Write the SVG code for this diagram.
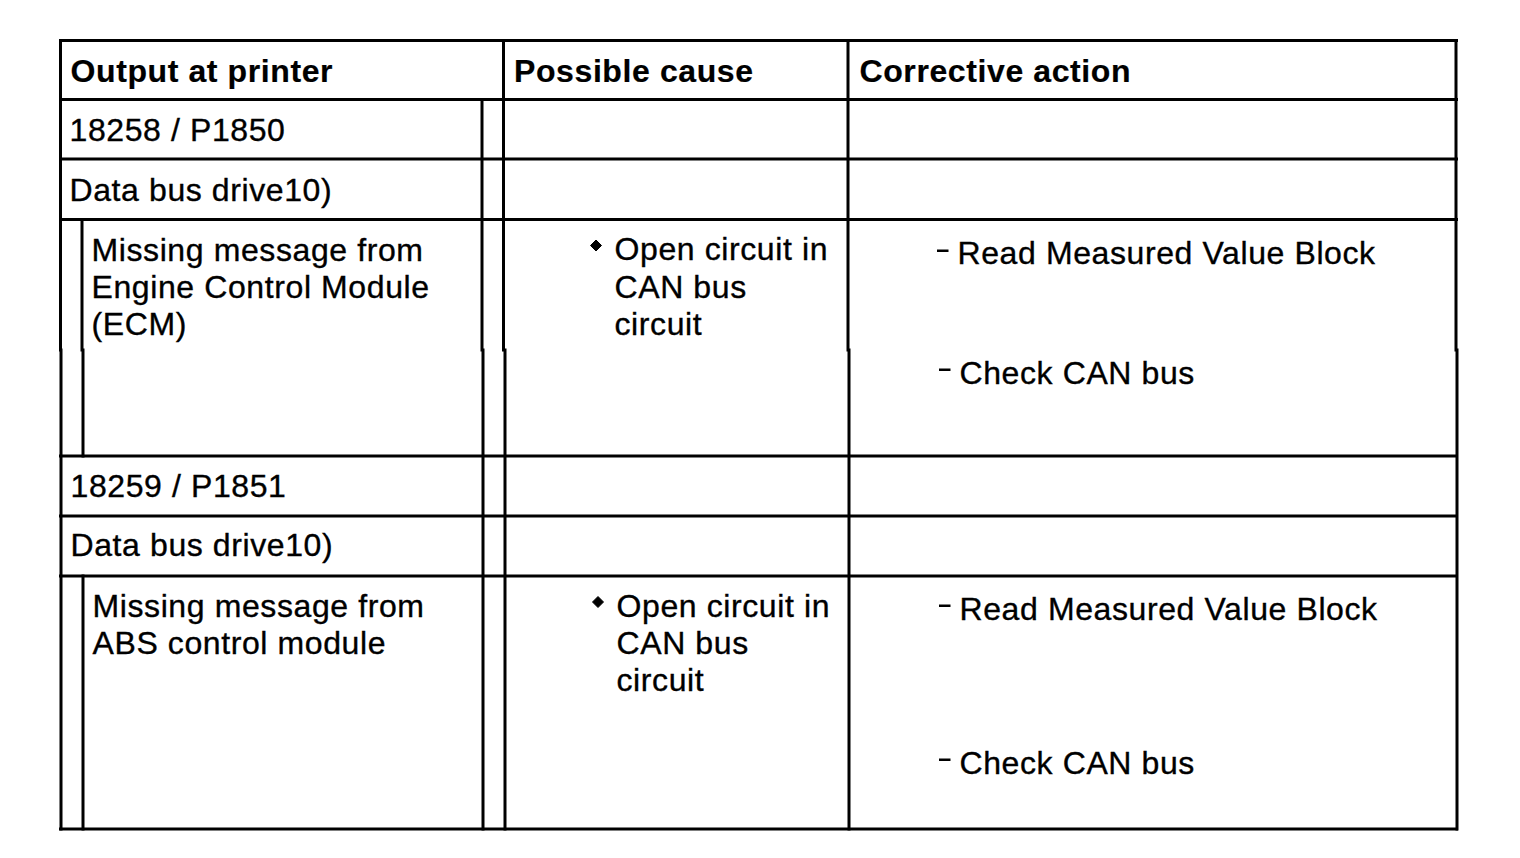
<svg xmlns="http://www.w3.org/2000/svg" width="1520" height="858" viewBox="0 0 1520 858">
<style>
  .t { font-family: "Liberation Sans", Arial, sans-serif; font-size: 32px; letter-spacing: 0.6px; fill: #000; stroke: #000; stroke-width: 0.35px; }
  .b { font-weight: bold; stroke-width: 0.2px; }
  .g line { stroke: #000; stroke-width: 3; stroke-linecap: square; fill: none; }
  .dash { fill: #000; }
  .dia { fill: #000; stroke: #000; stroke-width: 1; stroke-linejoin: round; }
</style>
<rect x="0" y="0" width="1520" height="858" fill="#fff"/>
<g id="grid" class="g">
  <line x1="60.5" y1="40.5" x2="1456.5" y2="40.5"/>
  <line x1="60.5" y1="99.5" x2="1456.5" y2="99.5"/>
  <line x1="60.5" y1="159" x2="1456.5" y2="159"/>
  <line x1="60.5" y1="219.5" x2="1456.5" y2="219.5"/>
  <line x1="60.5" y1="456" x2="1456.5" y2="456"/>
  <line x1="60.5" y1="516" x2="1456.5" y2="516"/>
  <line x1="60.5" y1="576" x2="1456.5" y2="576"/>
  <line x1="60.5" y1="829" x2="1456.5" y2="829"/>
  <line x1="60.5" y1="40.5" x2="60.5" y2="350"/>
  <line x1="82" y1="219.5" x2="82" y2="350"/>
  <line x1="482" y1="99.5" x2="482" y2="350"/>
  <line x1="503.5" y1="40.5" x2="503.5" y2="350"/>
  <line x1="848" y1="40.5" x2="848" y2="350"/>
  <line x1="1456" y1="40.5" x2="1456" y2="350"/>
  <line x1="61" y1="350" x2="61" y2="829"/>
  <line x1="83" y1="350" x2="83" y2="456"/>
  <line x1="83" y1="576" x2="83" y2="829"/>
  <line x1="483" y1="350" x2="483" y2="829"/>
  <line x1="505" y1="350" x2="505" y2="829"/>
  <line x1="849" y1="350" x2="849" y2="829"/>
  <line x1="1457" y1="350" x2="1457" y2="829"/>
</g>
<g id="hdr-output"><text class="t b" x="70.5" y="82">Output at printer</text></g>
<g id="hdr-cause"><text class="t b" x="514" y="82">Possible cause</text></g>
<g id="hdr-action"><text class="t b" x="859.5" y="82">Corrective action</text></g>

<g id="code1"><text class="t" x="69.5" y="141">18258 / P1850</text></g>
<g id="drive1"><text class="t" x="69.5" y="201">Data bus drive10)</text></g>
<g id="msg1">
  <text class="t" x="91.5" y="261">Missing message from</text>
  <text class="t" x="91.5" y="298">Engine Control Module</text>
  <text class="t" x="91.5" y="335">(ECM)</text>
</g>
<g id="cause1">
  <polygon class="dia" points="596,240 601.5,245.5 596,251 590.5,245.5"/>
  <text class="t" x="614.5" y="260">Open circuit in</text>
  <text class="t" x="614.5" y="298">CAN bus</text>
  <text class="t" x="614.5" y="335">circuit</text>
</g>
<g id="action1">
  <rect class="dash" x="937" y="249.5" width="11.5" height="2.5"/>
  <text class="t" x="957.5" y="264">Read Measured Value Block</text>
  <rect class="dash" x="939" y="368.5" width="11.5" height="2.5"/>
  <text class="t" x="959.5" y="384">Check CAN bus</text>
</g>

<g id="code2"><text class="t" x="70.5" y="497">18259 / P1851</text></g>
<g id="drive2"><text class="t" x="70.5" y="556">Data bus drive10)</text></g>
<g id="msg2">
  <text class="t" x="92.5" y="617">Missing message from</text>
  <text class="t" x="92.5" y="654">ABS control module</text>
</g>
<g id="cause2">
  <polygon class="dia" points="598,596.5 603.5,602 598,607.5 592.5,602"/>
  <text class="t" x="616.5" y="617">Open circuit in</text>
  <text class="t" x="616.5" y="654">CAN bus</text>
  <text class="t" x="616.5" y="691">circuit</text>
</g>
<g id="action2">
  <rect class="dash" x="939" y="604.5" width="11.5" height="2.5"/>
  <text class="t" x="959.5" y="620">Read Measured Value Block</text>
  <rect class="dash" x="939" y="758.5" width="11.5" height="2.5"/>
  <text class="t" x="959.5" y="774">Check CAN bus</text>
</g>
</svg>
